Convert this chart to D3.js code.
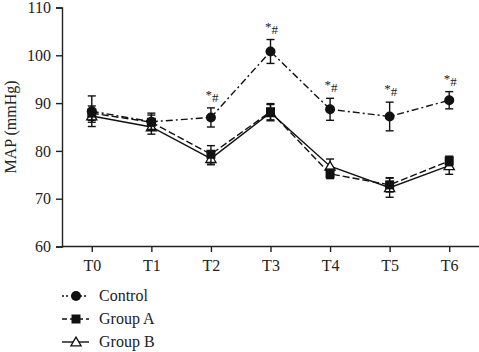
<!DOCTYPE html>
<html><head><meta charset="utf-8">
<script src="https://cdn.jsdelivr.net/npm/d3@7"></script>
<style>body{margin:0;background:#fff}svg{display:block}text{font-family:"Liberation Serif","Times New Roman",serif;fill:#222}</style>
</head><body>
<script>
const categories = ["T0","T1","T2","T3","T4","T5","T6"];
const controlMean = [88.3, 86.1, 87.0, 100.8, 88.7, 87.2, 90.6];
const controlErr  = [3.2, 1.8, 2.0, 2.5, 2.3, 3.0, 1.8];
const groupAMean  = [87.9, 86.0, 79.3, 88.2, 75.2, 72.9, 77.9];
const groupAErr   = [1.5, 1.5, 1.8, 1.7, 1.0, 1.5, 1.0];
const groupBMean  = [87.3, 85.0, 78.4, 88.0, 76.8, 72.3, 76.9];
const groupBErr   = [1.3, 1.5, 1.3, 1.7, 1.5, 2.0, 1.8];
const significant = [false, false, true, true, true, true, true];
const yTicks = [60, 70, 80, 90, 100, 110];
const seriesNames = ["Control", "Group A", "Group B"];

const W = 479, H = 352;
const svg = d3.select("body").append("svg").attr("width", W).attr("height", H);
const x = d3.scalePoint().domain(categories).range([62, 479]).padding(0.5);
const y = d3.scaleLinear().domain([60, 110]).range([246.5, 7.5]);

const series = [
  {name: seriesNames[0], mean: controlMean, err: controlErr, dash: "7,3,2,3", marker: "circle"},
  {name: seriesNames[1], mean: groupAMean, err: groupAErr, dash: "7,3", marker: "square"},
  {name: seriesNames[2], mean: groupBMean, err: groupBErr, dash: null, marker: "triangle"}
];

// axes
const yAxis = svg.append("g").attr("transform", "translate(62,0)")
  .call(d3.axisLeft(y).tickValues(yTicks).tickSize(6).tickPadding(5));
const xAxis = svg.append("g").attr("transform", "translate(0,246)")
  .call(d3.axisBottom(x).tickSize(6).tickPadding(8));
[yAxis, xAxis].forEach(g => {
  g.select(".domain").attr("stroke", "#222").attr("stroke-width", 1.4);
  g.selectAll(".tick line").attr("stroke", "#222").attr("stroke-width", 1.4);
  g.selectAll("text").style("font-size", "16px").attr("fill", "#222");
});
xAxis.select(".domain").attr("d", "M62,0.5H479");
svg.append("text").attr("transform", "translate(16,127) rotate(-90)")
  .attr("text-anchor", "middle").style("font-size", "16px").text("MAP (mmHg)");

function drawMarker(g, type, cx, cy) {
  if (type === "circle") g.append("circle").attr("cx", cx).attr("cy", cy).attr("r", 5).attr("fill", "#111");
  else if (type === "square") g.append("rect").attr("x", cx - 4.5).attr("y", cy - 4.5).attr("width", 9).attr("height", 9).attr("fill", "#111");
  else g.append("path").attr("d", d3.symbol().type(d3.symbolTriangle).size(45)()).attr("transform", `translate(${cx},${cy + 1})`)
    .attr("fill", "#fff").attr("stroke", "#111").attr("stroke-width", 1.3);
}

const line = d3.line().x((d, i) => x(categories[i])).y(d => y(d));
// draw in order B, A, Control
[...series].reverse().forEach(s => {
  const g = svg.append("g");
  g.append("path").attr("d", line(s.mean)).attr("fill", "none").attr("stroke", "#111")
    .attr("stroke-width", 1.4).attr("stroke-dasharray", s.dash);
  s.mean.forEach((m, i) => {
    const cx = x(categories[i]);
    const t = y(m + s.err[i]), b = y(m - s.err[i]);
    g.append("line").attr("x1", cx).attr("x2", cx).attr("y1", t).attr("y2", b).attr("stroke", "#111").attr("stroke-width", 1.4);
    [t, b].forEach(v => g.append("line").attr("x1", cx - 4).attr("x2", cx + 4).attr("y1", v).attr("y2", v).attr("stroke", "#111").attr("stroke-width", 1.4));
  });
  s.mean.forEach((m, i) => drawMarker(g, s.marker, x(categories[i]), y(m)));
});

// significance annotations
controlMean.forEach((m, i) => {
  if (!significant[i]) return;
  const t = svg.append("text").attr("x", x(categories[i]) + 1).attr("y", y(m + controlErr[i]) - 6)
    .attr("text-anchor", "middle").style("font-size", "13px");
  t.append("tspan").attr("dy", -3).text("*");
  t.append("tspan").attr("dy", 3).text("#");
});

// legend
const legY = [296, 319, 342];
series.forEach((s, i) => {
  const g = svg.append("g");
  g.append("line").attr("x1", 62).attr("x2", 89).attr("y1", legY[i]).attr("y2", legY[i])
    .attr("stroke", "#111").attr("stroke-width", 1.4).attr("stroke-dasharray", s.dash ? (i === 0 ? "2,2,2,3" : "5,3") : null);
  drawMarker(g, s.marker, 76, legY[i]);
  g.append("text").attr("x", 99).attr("y", legY[i] + 5).style("font-size", "16px").text(s.name);
});
</script>
</body></html>
